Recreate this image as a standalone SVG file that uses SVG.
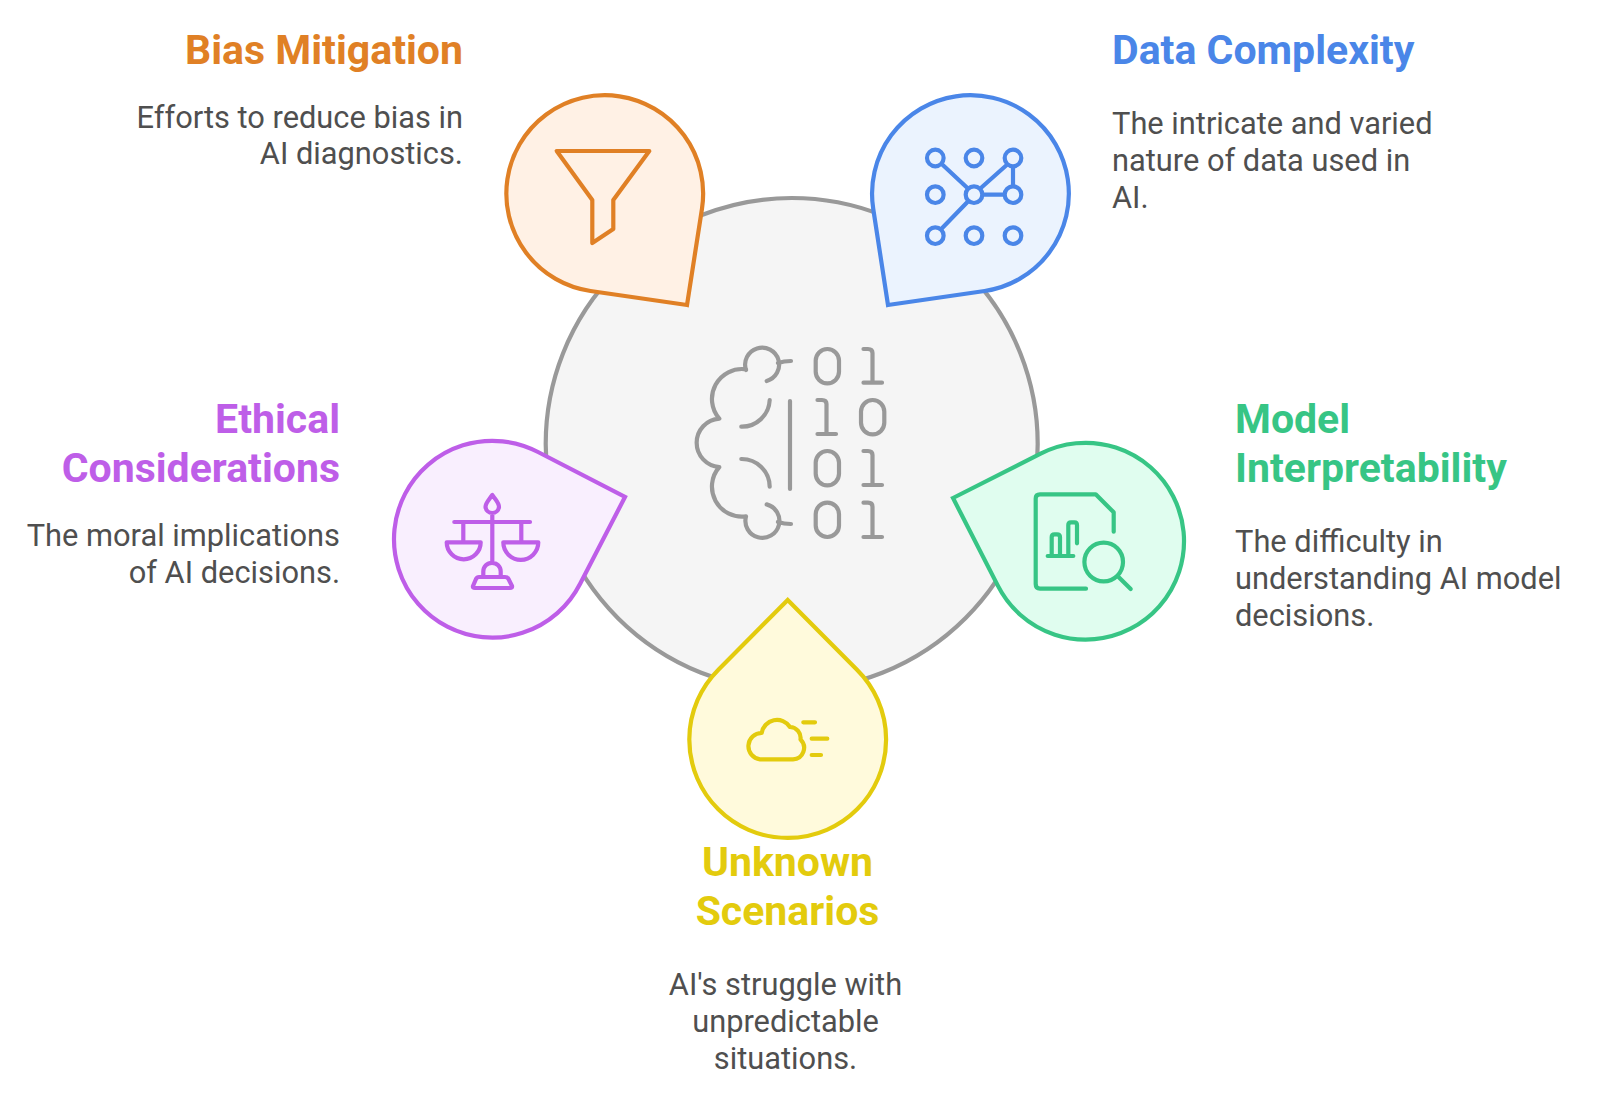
<svg xmlns="http://www.w3.org/2000/svg" width="1600" height="1108" viewBox="0 0 1600 1108">
<style>
text{font-family:Roboto,"Liberation Sans",sans-serif}
.t{font-size:41px;font-weight:700}
.b{font-size:30.8px;fill:#4f4f4f}
.e{text-anchor:end}.m{text-anchor:middle}
.i{fill:none;stroke-width:4.2;stroke-linecap:round;stroke-linejoin:round}
.d{stroke-width:4.2;stroke-linejoin:miter}
</style>
<rect width="1600" height="1108" fill="#fff"/>
<g id="connectors"></g>
<g id="center">
<circle cx="791.7" cy="444" r="246" fill="#f5f5f5" stroke="#999" stroke-width="4.2"/>
<g class="i" stroke="#999">
<path d="M746 370A17 17 0 1 1 766.7 381M778 363Q784 361 791 361M746 369.3A30 30 0 0 0 719.3 418.7A24.2 24.2 0 0 0 719.3 467A30 30 0 0 0 746 516.4A17 17 0 1 0 766.7 504.4M778 522Q784 524 791 524M769.7 400A28 28 0 0 1 741.3 426.7M741.3 459A28 28 0 0 1 769.7 486.7M790 401V489"/>
<rect x="815.7" y="349" width="23.3" height="34.3" rx="11.6"/>
<rect x="861" y="400" width="23.3" height="34.3" rx="11.6"/>
<rect x="815.7" y="451" width="23.3" height="34.3" rx="11.6"/>
<rect x="815.7" y="502.7" width="23.3" height="34.3" rx="11.6"/>
<path d="M863.5 349H868Q872.5 349 872.5 353V382.7M863.5 382.7H882M817.5 400H822Q826.5 400 826.5 404V434M817.5 434H836M863.5 451H868Q872.5 451 872.5 455V485M863.5 485H882M863.5 502.7H868Q872.5 502.7 872.5 506.7V537M863.5 537H882"/>
</g>
</g>
<g id="bias">
<path class="d" d="M687 305L590.5 291A98.4 98.4 0 1 1 702 208.6Z" fill="#fff1e5" stroke="#e08025"/>
<path class="i" stroke="#e08025" d="M556.7 151H649.3L613.3 200V229L592.3 243V200Z"/>
<text class="t e" x="463" y="64" fill="#e08025">Bias Mitigation</text>
<text class="b e" x="463" y="128">Efforts to reduce bias in</text>
<text class="b e" x="463" y="164">AI diagnostics.</text>
</g>
<g id="data">
<path class="d" d="M888 305L984.6 291A98.4 98.4 0 1 0 873.2 208.6Z" fill="#ebf3fe" stroke="#4a86e8"/>
<g class="i" stroke="#4a86e8">
<circle cx="935.3" cy="158" r="8.3"/><circle cx="974" cy="158" r="8.3"/><circle cx="1013" cy="158" r="8.3"/>
<circle cx="935.3" cy="194.7" r="8.3"/><circle cx="974" cy="194.7" r="8.3"/><circle cx="1013" cy="194.7" r="8.3"/>
<circle cx="935.3" cy="235.7" r="8.3"/><circle cx="974" cy="235.7" r="8.3"/><circle cx="1013" cy="235.7" r="8.3"/>
<path d="M942 164.3L967.7 188.3M981.7 187.3L1006.7 165M1013 167V186M983 194.7H1004M967.7 201.7L942 228.3"/>
</g>
<text class="t" x="1112" y="64" fill="#4a86e8">Data Complexity</text>
<text class="b" x="1112" y="133.5">The intricate and varied</text>
<text class="b" x="1112" y="170.5">nature of data used in</text>
<text class="b" x="1112" y="207.5">AI.</text>
</g>
<g id="ethical">
<path class="d" d="M625 497L580 584A98.4 98.4 0 1 1 538 452Z" fill="#f9effe" stroke="#be5ee8"/>
<g class="i" stroke="#be5ee8">
<path d="M492.3 495C488 501 485.5 503 485.5 507A6.8 6.8 0 0 0 499 507C499 503 496.5 501 492.3 495ZM492.3 514V562M454.3 522H530M463.3 522V542M521.3 522V542M446.7 542.3H480.7A17 17 0 0 1 446.7 542.3ZM503.3 542.3H538.3A17.5 17.5 0 0 1 503.3 542.3ZM483.3 577V571.5A8.7 8.7 0 0 1 500.7 571.5V577M479 577H505Q507.5 577 508.5 579L512 586Q512.5 588 510 588H475Q472.5 588 473 586L476 579Q477 577 479 577Z"/>
</g>
<text class="t e" x="340" y="433" fill="#be5ee8">Ethical</text>
<text class="t e" x="340" y="482" fill="#be5ee8">Considerations</text>
<text class="b e" x="340" y="546">The moral implications</text>
<text class="b e" x="340" y="582.5">of AI decisions.</text>
</g>
<g id="model">
<path class="d" d="M953 498L1040.6 453.7A98.4 98.4 0 1 1 997.7 585.4Z" fill="#e0fdef" stroke="#37c585"/>
<g class="i" stroke="#37c585">
<path d="M1086 588.7H1040Q1035.7 588.7 1035.7 584V498.5Q1035.7 494.3 1040 494.3H1095.7L1113.7 512.3V531.7M1047.7 556H1073.3M1051.7 556V537Q1051.7 534.3 1054.5 534.3H1057Q1060 534.3 1060 537V556M1068.3 556V525Q1068.3 522.3 1071 522.3H1074.5Q1077 522.3 1077 525V543.3"/>
<circle cx="1103.7" cy="562" r="19.3"/>
<path d="M1118.3 576.7L1130.7 589"/>
</g>
<text class="t" x="1235" y="433" fill="#37c585">Model</text>
<text class="t" x="1235" y="482" fill="#37c585">Interpretability</text>
<text class="b" x="1235" y="552">The difficulty in</text>
<text class="b" x="1235" y="589">understanding AI model</text>
<text class="b" x="1235" y="626">decisions.</text>
</g>
<g id="unknown">
<path class="d" d="M787.7 600L857 669.7A98.4 98.4 0 1 1 718.4 669.7Z" fill="#fffadc" stroke="#e3cb0d"/>
<g class="i" stroke="#e3cb0d">
<path d="M760 759.3H793A11.5 11.5 0 0 0 800.5 739.5A11 11 0 0 0 790 727A15.5 15.5 0 0 0 761.7 733A13.2 13.2 0 0 0 760 759.3ZM803.3 722.3H815M811.7 738.7H827.3M811.7 755H821"/>
</g>
<text class="t m" x="787.5" y="876" fill="#e3cb0d">Unknown</text>
<text class="t m" x="787.5" y="925" fill="#e3cb0d">Scenarios</text>
<text class="b m" x="785.5" y="994.5">AI's struggle with</text>
<text class="b m" x="785.5" y="1031.5">unpredictable</text>
<text class="b m" x="785.5" y="1068.5">situations.</text>
</g>
</svg>
